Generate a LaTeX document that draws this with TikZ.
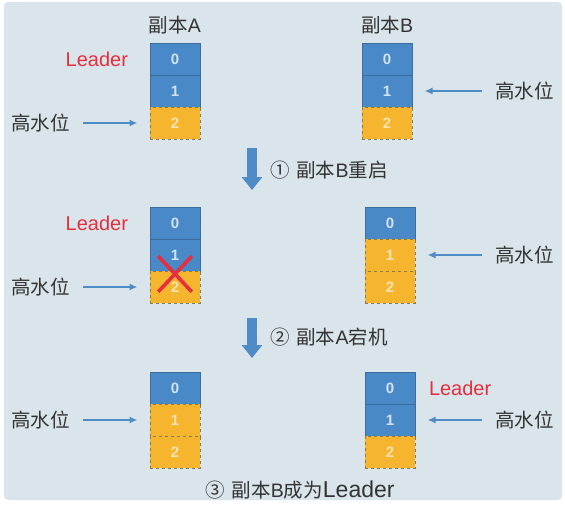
\documentclass[tikz,border=0pt]{standalone}
\usepackage{fontspec}
\setmainfont{Liberation Sans}
\newfontfamily\cjk{Noto Sans CJK SC}
\usepackage{tikz}
\usetikzlibrary{arrows.meta}
\usetikzlibrary{positioning}
\usetikzlibrary{shapes.misc}
\definecolor{paper}{HTML}{DAE5EB}
\definecolor{cellblue}{HTML}{4A89C8}
\definecolor{cellline}{HTML}{3B6E9F}
\definecolor{cellgold}{HTML}{F6B52E}
\definecolor{goldline}{HTML}{8A7A4C}
\definecolor{leadred}{HTML}{E52E3E}
\definecolor{pointblue}{HTML}{4F8BC6}
\definecolor{inktext}{HTML}{333333}
\tikzset{cell/.style={rectangle,minimum width=50pt,minimum height=32pt,inner sep=0pt,outer sep=0pt,text=white!75!cellblue,font=\bfseries\fontsize{15}{18}\selectfont}}

\begin{document}
\begin{tikzpicture}[x=1pt,y=-1pt]
  % some styles
  \tikzset{
    blue cell/.style={cell,fill=cellblue,draw=cellline,line width=0.6pt},
    gold cell/.style={cell,fill=cellgold,draw=goldline,dashed,line width=0.7pt,text=white!62!cellgold},
    tag/.style={inner sep=0pt,outer sep=0pt,text=inktext,font=\fontsize{19.5}{22}\selectfont},
    leader/.style={tag,text=leadred,font=\fontsize{20}{22}\selectfont},
    pointer/.style={draw=pointblue,line width=1.6pt,-{Latex[length=8pt,width=7pt]},shorten <=13pt,shorten >=12.5pt},
    stage arrow/.style={draw=pointblue,line width=10pt,-{Triangle[length=13pt,width=20pt]}},
    crossmark/.style={cross out,draw=leadred,line width=3.6pt,minimum width=30pt,minimum height=32pt,inner sep=0pt}
  }
  \useasboundingbox (0,0) rectangle (565,504);
  \fill[paper,rounded corners=4pt] (4,2) rectangle (562,500);

  % replica titles
  \node[tag] (titleA) at (175,25) {{\cjk 副本}A};
  \node[tag] (titleB) at (387,25) {{\cjk 副本}B};

  % before
  \node[blue cell] (a1-0) at (175,59) {0};
  \node[blue cell,below=0pt of a1-0] (a1-1) {1};
  \node[gold cell,below=0pt of a1-1] (a1-2) {2};
  \node[blue cell] (b1-0) at (387,59) {0};
  \node[blue cell,below=0pt of b1-0] (b1-1) {1};
  \node[gold cell,below=0pt of b1-1] (b1-2) {2};
  \node[leader,left=22pt of a1-0] (lead1) {Leader};
  \node[tag,left=80pt of a1-2] (hw1a) {\cjk 高水位};
  \node[tag,right=83pt of b1-1] (hw1b) {\cjk 高水位};
  \draw[pointer] (hw1a) -- (a1-2);
  \draw[pointer] (hw1b) -- (b1-1);

  % step 1
  \coordinate (s1a) at (252,148);
  \coordinate (s1b) at (252,190);
  \draw[stage arrow] (s1a) -- (s1b);
  \node[tag,anchor=west] (s1t) at (270,170) {{\cjk ①}\hspace{7pt}{\cjk 副本}B{\cjk 重启}};

  % after restart of B
  \node[blue cell] (a2-0) at (175,223) {0};
  \node[blue cell,below=0pt of a2-0] (a2-1) {1};
  \node[gold cell,below=0pt of a2-1] (a2-2) {2};
  \node[blue cell] (b2-0) at (390,223) {0};
  \node[gold cell,below=0pt of b2-0] (b2-1) {1};
  \node[gold cell,below=0pt of b2-1] (b2-2) {2};
  \node[crossmark] (cross) at ([yshift=-3pt]a2-2.north) {};
  \node[leader,left=22pt of a2-0] (lead2) {Leader};
  \node[tag,left=80pt of a2-2] (hw2a) {\cjk 高水位};
  \node[tag,right=80pt of b2-1] (hw2b) {\cjk 高水位};
  \draw[pointer] (hw2a) -- (a2-2);
  \draw[pointer] (hw2b) -- (b2-1);

  % step 2
  \coordinate (s2a) at (252,318);
  \coordinate (s2b) at (252,358);
  \draw[stage arrow] (s2a) -- (s2b);
  \node[tag,anchor=west] (s2t) at (270,337) {{\cjk ②}\hspace{7pt}{\cjk 副本}A{\cjk 宕机}};

  % after A goes down
  \node[blue cell] (a3-0) at (175,388) {0};
  \node[gold cell,below=0pt of a3-0] (a3-1) {1};
  \node[gold cell,below=0pt of a3-1] (a3-2) {2};
  \node[blue cell] (b3-0) at (390,388) {0};
  \node[blue cell,below=0pt of b3-0] (b3-1) {1};
  \node[gold cell,below=0pt of b3-1] (b3-2) {2};
  \node[leader,right=14pt of b3-0] (lead3) {Leader};
  \node[tag,left=80pt of a3-1] (hw3a) {\cjk 高水位};
  \node[tag,right=80pt of b3-1] (hw3b) {\cjk 高水位};
  \draw[pointer] (hw3a) -- (a3-1);
  \draw[pointer] (hw3b) -- (b3-1);

  % step 3
  \node[tag] (s3t) at (300,490) {{\cjk ③}\hspace{7pt}{\cjk 副本}B{\cjk 成为}{\fontsize{23}{24}\selectfont Leader}};
\end{tikzpicture}
\end{document}
